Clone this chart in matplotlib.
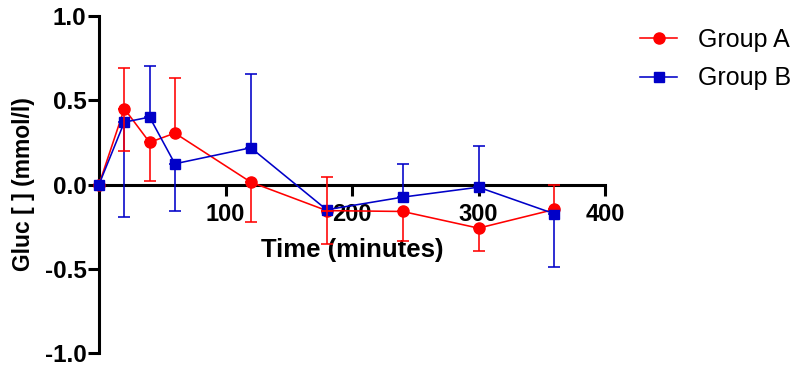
import numpy as np
import matplotlib
matplotlib.use("Agg")
import matplotlib.pyplot as plt

plt.rcParams['font.family'] = ['Liberation Sans', 'DejaVu Sans']

# Sampling times (minutes)
times = [0, 20, 40, 60, 120, 180, 240, 300, 360]

# Group A: mean change and one-sided error extents
group_a = [0.0, 0.45, 0.25, 0.305, 0.014, -0.155, -0.16, -0.259, -0.148]
group_a_up = [0, 0.24, 0, 0.33, 0, 0.198, 0, 0, 0.148]
group_a_down = [0, 0.25, 0.232, 0, 0.238, 0.197, 0.176, 0.133, 0]

# Group B: mean change and one-sided error extents
group_b = [0.0, 0.37, 0.40, 0.123, 0.218, -0.15, -0.075, -0.016, -0.174]
group_b_up = [0, 0, 0.306, 0, 0.44, 0, 0.194, 0.243, 0]
group_b_down = [0, 0.56, 0, 0.28, 0, 0, 0, 0, 0.313]

RED = "#FF0000"
BLUE = "#0000C8"

fig = plt.figure(figsize=(8.0, 3.66), dpi=100)
ax = fig.add_axes([99 / 800, 1 - 353 / 366, (605 - 99) / 800, (353 - 16) / 366])


def draw_errors(x, y, up, down, color, z):
    x = np.asarray(x, float)
    y = np.asarray(y, float)
    up = np.asarray(up, float)
    down = np.asarray(down, float)
    for sel, err in ((up > 0, lambda m: [np.zeros(m.sum()), up[m]]),
                     (down > 0, lambda m: [down[m], np.zeros(m.sum())])):
        if sel.any():
            ax.errorbar(x[sel], y[sel], yerr=err(sel), fmt='none',
                        ecolor=color, elinewidth=1.15, capsize=4.3, capthick=1.15,
                        zorder=z, clip_on=False)


ax.plot(times, group_a, color=RED, lw=1.15, marker='o', ms=8, mec=RED, mfc=RED,
        label='Group A', zorder=4, clip_on=False)
ax.plot(times, group_b, color=BLUE, lw=1.15, marker='s', ms=7.3, mec=BLUE, mfc=BLUE,
        label='Group B', zorder=5, clip_on=False)
draw_errors(times, group_b, group_b_up, group_b_down, BLUE, 5.5)
draw_errors(times, group_a, group_a_up, group_a_down, RED, 6)

ax.set_xlim(0, 400)
ax.set_ylim(-1.0, 1.0)
ax.set_xticks([100, 200, 300, 400])
ax.set_yticks([-1.0, -0.5, 0.0, 0.5, 1.0])
ax.set_yticklabels(['-1.0', '-0.5', '0.0', '0.5', '1.0'])

for s in ['top', 'right']:
    ax.spines[s].set_visible(False)
ax.spines['bottom'].set_position(('data', 0))
ax.spines['left'].set_linewidth(2.2)
ax.spines['bottom'].set_linewidth(2.2)
ax.spines['bottom'].set_zorder(3)
ax.tick_params(axis='x', which='major', length=8, width=2.2, direction='out',
               labelsize=17, pad=5)
ax.tick_params(axis='y', which='major', length=8, width=2.2, direction='out',
               labelsize=17.5, pad=1)
for lab in ax.get_xticklabels() + ax.get_yticklabels():
    lab.set_fontweight('bold')

ax.set_xlabel('Time (minutes)', fontsize=18.5, fontweight='bold')
ax.xaxis.set_label_coords(0.5, 0.34)
ax.set_ylabel('Gluc [ ] (mmol/l)', fontsize=16.5, fontweight='bold')
ax.yaxis.set_label_coords(-0.126, 0.5)

leg = ax.legend(loc='upper left', bbox_to_anchor=(640 / 800, 1 - 28 / 366),
                bbox_transform=fig.transFigure, frameon=False, fontsize=18,
                borderpad=0, borderaxespad=0,
                handlelength=1.48, handletextpad=0.84, labelspacing=0.58)

fig.savefig('out.png', dpi=100)
